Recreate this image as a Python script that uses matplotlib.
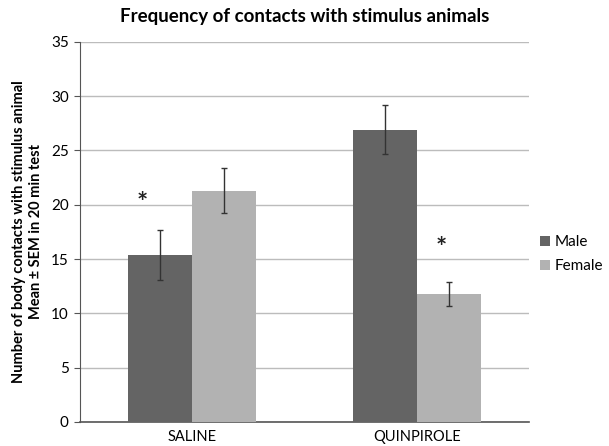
import numpy as np
import matplotlib.pyplot as plt

plt.rcParams['font.family'] = ['Lato', 'DejaVu Sans']

groups = ['SALINE', 'QUINPIROLE']
male = [15.4, 26.9]
male_sem = [2.3, 2.25]
female = [21.3, 11.8]
female_sem = [2.1, 1.1]
# asterisks: (x position, y value)
stars = [(-0.22, 20.2), (1.11, 16.0)]

fig = plt.figure(figsize=(6.09, 4.46), dpi=100)
ax = fig.add_axes([0.131, 0.054, 0.738, 0.852])

x = np.arange(len(groups))
w = 0.285
err_kw = dict(ecolor='#333333', elinewidth=1, capsize=2.5, capthick=1)
ax.bar(x - w/2, male, w, yerr=male_sem, color='#646464', label='Male',
       error_kw=err_kw, zorder=3)
ax.bar(x + w/2, female, w, yerr=female_sem, color='#b2b2b2', label='Female',
       error_kw=err_kw, zorder=3)

for sx, sy in stars:
    ax.text(sx, sy, '*', ha='center', va='center', fontsize=19,
            fontweight='bold', color='#222222', zorder=4)

ax.set_xlim(-0.5, 1.5)
ax.set_ylim(0, 35)
ax.set_yticks(range(0, 36, 5))
ax.set_xticks(x)
ax.set_xticklabels(groups, fontsize=10.5)
ax.tick_params(axis='x', length=0, pad=6)
ax.tick_params(axis='y', length=4, color='#555555', labelsize=11, pad=4)
ax.yaxis.grid(True, color='#bcbcbc', linewidth=1, zorder=0)
ax.set_axisbelow(True)
for s in ['top', 'right']:
    ax.spines[s].set_visible(False)
ax.spines['left'].set_color('#555555')
ax.spines['bottom'].set_color('#555555')
ax.spines['bottom'].set_linewidth(1.2)

ax.set_title('Frequency of contacts with stimulus animals', fontsize=13.5,
             fontweight='bold', pad=14)
ax.set_ylabel('Number of body contacts with stimulus animal\nMean ± SEM in 20 min test',
              fontsize=10.5, fontweight='bold', labelpad=6)

fig.legend(loc='center left', bbox_to_anchor=(0.886, 0.43), frameon=False,
           fontsize=11, handlelength=0.65, handleheight=0.65, handletextpad=0.35,
           labelspacing=0.65, borderaxespad=0, borderpad=0)

fig.savefig('out.png', dpi=100)
